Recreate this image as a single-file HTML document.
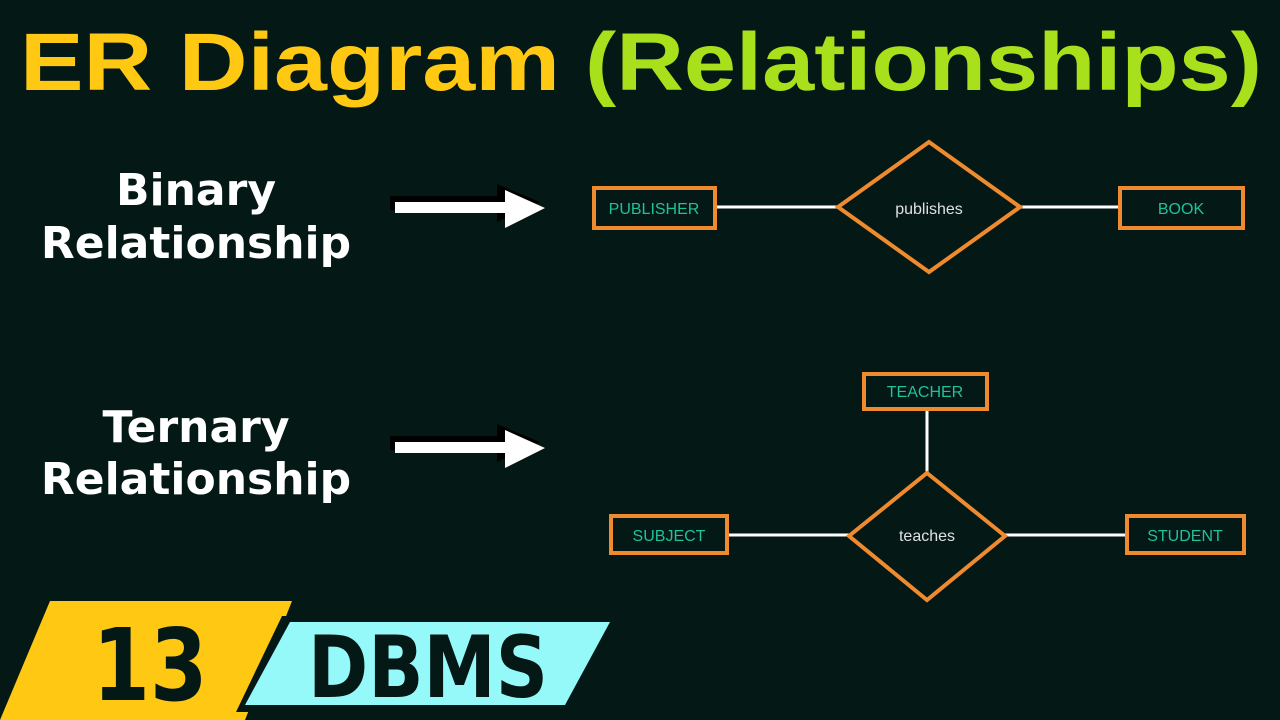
<!DOCTYPE html>
<html><head><meta charset="utf-8"><style>
html,body{margin:0;padding:0;background:#041816;}
svg{display:block}
</style></head><body>
<svg width="1280" height="720" viewBox="0 0 1280 720" xmlns="http://www.w3.org/2000/svg">
<rect width="1280" height="720" fill="#041816"/>
<text x="20" y="90" font-family="Liberation Sans, sans-serif" font-weight="bold" font-size="82" textLength="540" lengthAdjust="spacingAndGlyphs" fill="#ffc813">ER Diagram</text>
<text x="585" y="90" font-family="Liberation Sans, sans-serif" font-weight="bold" font-size="82" textLength="677" lengthAdjust="spacingAndGlyphs" fill="#a8e01c">(Relationships)</text>

<g font-family="DejaVu Sans, sans-serif" font-weight="bold" font-size="44" fill="#ffffff" text-anchor="middle">
<text x="196" y="205">Binary</text>
<text x="196" y="258">Relationship</text>
<text x="196" y="442">Ternary</text>
<text x="196" y="494">Relationship</text>
</g>

<g>
<path d="M390 196 H497 V184 L540 202 L497 222 V210 H390 Z" fill="#000" />
<path d="M395 202 H505 V190 L545 208 L505 228 V213 H395 Z" fill="#fff"/>
<path d="M390 436 H497 V424 L540 442 L497 462 V450 H390 Z" fill="#000" />
<path d="M395 442 H505 V430 L545 448 L505 468 V453 H395 Z" fill="#fff"/>
</g>

<g stroke="#fff" stroke-width="3">
<line x1="715" y1="207" x2="838" y2="207"/>
<line x1="1020" y1="207" x2="1120" y2="207"/>
<line x1="927" y1="409" x2="927" y2="473"/>
<line x1="727" y1="535" x2="849" y2="535"/>
<line x1="1005" y1="535" x2="1127" y2="535"/>
</g>
<g fill="none" stroke="#f08a2e" stroke-width="4">
<rect x="594" y="188" width="121" height="40"/>
<rect x="1120" y="188" width="123" height="40"/>
<polygon points="929,142 1020,207 929,272 838,207"/>
<rect x="864" y="374" width="123" height="35"/>
<rect x="611" y="516" width="116" height="37"/>
<rect x="1127" y="516" width="117" height="37"/>
<polygon points="927,473 1005,536 927,600 849,536"/>
</g>
<g font-family="Liberation Sans, sans-serif" font-size="16" text-anchor="middle">
<text x="654" y="214" fill="#1fc29a">PUBLISHER</text>
<text x="1181" y="214" fill="#1fc29a">BOOK</text>
<text x="929" y="214" fill="#e0e0e0">publishes</text>
<text x="925" y="397" fill="#1fc29a">TEACHER</text>
<text x="669" y="541" fill="#1fc29a">SUBJECT</text>
<text x="1185" y="541" fill="#1fc29a">STUDENT</text>
<text x="927" y="541" fill="#e0e0e0">teaches</text>
</g>

<polygon points="50,601 292,601 245,720 0,720" fill="#ffc813"/>
<text x="150" y="700" font-family="DejaVu Sans, sans-serif" font-weight="bold" font-size="100" fill="#041816" text-anchor="middle" textLength="115" lengthAdjust="spacingAndGlyphs">13</text>
<polygon points="282,616 618,616 572,712 236,712" fill="#041816"/>
<polygon points="290,622 610,622 565,705 245,705" fill="#96f9f9"/>
<text x="428" y="697" font-family="DejaVu Sans, sans-serif" font-weight="bold" font-size="86" fill="#041816" text-anchor="middle" textLength="240" lengthAdjust="spacingAndGlyphs">DBMS</text>
</svg>
</body></html>
